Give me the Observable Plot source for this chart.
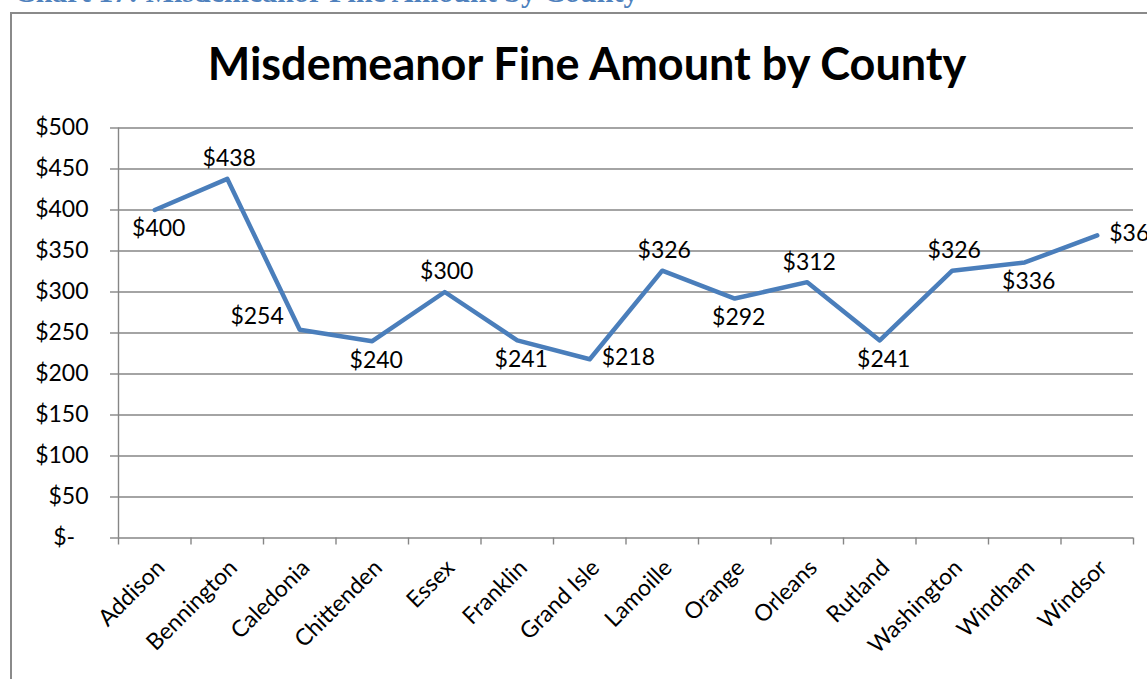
<!DOCTYPE html>
<html>
<head>
<meta charset="utf-8">
<script src="https://cdn.jsdelivr.net/npm/d3@7"></script>
<script src="https://cdn.jsdelivr.net/npm/@observablehq/plot@0.6"></script>
<style>
  html, body { margin: 0; padding: 0; background: #fff; }
  #page { position: relative; width: 1147px; height: 679px; overflow: hidden; background: #fff; }
  #heading { position: absolute; left: 14px; top: -25px; font-family: "Liberation Serif", serif; font-weight: bold; font-size: 30px; color: #4F81BD; white-space: nowrap; }
  #frame { position: absolute; left: 10px; top: 12px; width: 1300px; height: 800px; border: 2px solid #8a8a8a; box-sizing: border-box; }
  #title { position: absolute; left: 0; width: 1174px; top: 36px; text-align: center; font-family: Lato, sans-serif; font-weight: bold; font-size: 45px; color: #000; }
  #chart { position: absolute; left: 0; top: 90px; }
</style>
</head>
<body>
<div id="page">
  <div id="heading">Chart 17: Misdemeanor Fine Amount by County</div>
  <div id="frame"></div>
  <div id="title">Misdemeanor Fine Amount by County</div>
  <div id="chart"></div>
</div>
<script>
const counties = ["Addison","Bennington","Caledonia","Chittenden","Essex","Franklin","Grand Isle","Lamoille","Orange","Orleans","Rutland","Washington","Windham","Windsor"];
const fines = [400, 438, 254, 240, 300, 241, 218, 326, 292, 312, 241, 326, 336, 369];
const labelPlacement = ["below","above","left","below","above","below","right","above","below","above","below","above","below","right"];
const yTicks = [0, 50, 100, 150, 200, 250, 300, 350, 400, 450, 500];

const data = counties.map((c, i) => ({county: c, i: i + 0.5, fine: fines[i], place: labelPlacement[i]}));
const centers = data.map(d => d.i);
const boundaries = d3.range(0, counties.length + 1);
const grey = "#868686";
const fmt = v => "$" + v;

const place = {
  above: {dx: 2, dy: -20, textAnchor: "middle"},
  below: {dx: 4, dy: 19, textAnchor: "middle"},
  left: {dx: -16, dy: -13, textAnchor: "end"},
  right: {dx: 12, dy: -2, textAnchor: "start"}
};

const chart = Plot.plot({
  width: 1147,
  height: 589,
  marginLeft: 118,
  marginRight: 14,
  marginTop: 37.5,
  marginBottom: 141.5,
  style: {fontFamily: "Lato, sans-serif", fontSize: "23px", color: "#000", background: "transparent"},
  x: {type: "linear", domain: [0, counties.length]},
  y: {domain: [0, 500]},
  marks: [
    Plot.ruleY(yTicks, {stroke: grey, strokeWidth: 1.4}),
    Plot.ruleX([0], {stroke: grey, strokeWidth: 1.4}),
    Plot.axisY({ticks: yTicks, tickSize: 8, tickPadding: 22, stroke: grey, strokeWidth: 1.4, strokeOpacity: 1,
      tickFormat: d => d === 0 ? "$-\u2007" : "$" + d, fontSize: 23, label: null}),
    Plot.axisX({ticks: boundaries, tickSize: 7, stroke: grey, strokeWidth: 1.4, strokeOpacity: 1, tickFormat: () => "", label: null}),
    Plot.axisX({ticks: centers, tickSize: 0, tickRotate: -45, tickPadding: 26, dx: 6,
      tickFormat: d => counties[Math.round(d - 0.5)], fontSize: 23, label: null}),
    Plot.line(data, {x: "i", y: "fine", stroke: "#4A7EBB", strokeWidth: 4.5, strokeLinejoin: "round", strokeLinecap: "round"}),
    ...Object.entries(place).map(([k, o]) =>
      Plot.text(data.filter(d => d.place === k), {x: "i", y: "fine", text: d => fmt(d.fine), fontSize: 23, fill: "#000", ...o}))
  ]
});
document.getElementById("chart").appendChild(chart);
</script>
</body>
</html>
